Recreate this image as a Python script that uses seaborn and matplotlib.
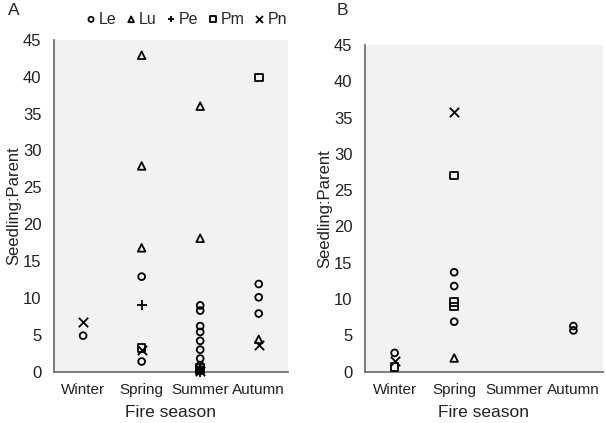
import numpy as np
import pandas as pd
import matplotlib.pyplot as plt
import seaborn as sns

sns.set_style("white")
plt.rcParams['font.family'] = ['Liberation Sans', 'DejaVu Sans']

seasons = ["Winter", "Spring", "Summer", "Autumn"]
species = ["Le", "Lu", "Pe", "Pm", "Pn"]
markers = {"Le": "o", "Lu": "^", "Pe": "+", "Pm": "s", "Pn": "x"}

# panel A: one entry per point (season, species, seedling:parent ratio)
a_season = ["Winter", "Winter",
            "Spring", "Spring", "Spring", "Spring", "Spring", "Spring", "Spring", "Spring",
            "Summer", "Summer", "Summer", "Summer", "Summer", "Summer", "Summer", "Summer",
            "Summer", "Summer", "Summer", "Summer", "Summer", "Summer", "Summer",
            "Autumn", "Autumn", "Autumn", "Autumn", "Autumn", "Autumn"]
a_species = ["Pn", "Le",
             "Lu", "Lu", "Lu", "Le", "Pe", "Pm", "Pn", "Le",
             "Lu", "Lu", "Le", "Le", "Le", "Le", "Le", "Le",
             "Le", "Le", "Pm", "Pm", "Lu", "Pn", "Pe",
             "Pm", "Le", "Le", "Le", "Lu", "Pn"]
a_value = [6.7, 4.9,
           42.9, 27.9, 16.8, 12.9, 9.0, 3.2, 3.0, 1.4,
           36.0, 18.1, 9.0, 8.3, 6.2, 5.4, 4.2, 3.0, 1.8, 0.9,
           0.5, 0.2, 0.4, 0.1, 0.0,
           39.9, 11.9, 10.1, 7.9, 4.4, 3.6]

# panel B
b_season = ["Winter", "Winter", "Winter",
            "Spring", "Spring", "Spring", "Spring", "Spring", "Spring", "Spring", "Spring",
            "Autumn", "Autumn"]
b_species = ["Le", "Pn", "Pm",
             "Pn", "Pm", "Le", "Le", "Pm", "Pm", "Le", "Lu",
             "Le", "Le"]
b_value = [2.6, 1.5, 0.7,
           35.8, 27.0, 13.7, 11.8, 9.6, 9.0, 6.9, 1.9,
           6.3, 5.7]

dfa = pd.DataFrame({"season": a_season, "species": a_species, "ratio": a_value})
dfb = pd.DataFrame({"season": b_season, "species": b_species, "ratio": b_value})
for d in (dfa, dfb):
    d["pos"] = d["season"].map({s: i for i, s in enumerate(seasons)})

fig = plt.figure(figsize=(6.05, 4.23), dpi=100)
axA = fig.add_axes([0.089, 0.121, 0.387, 0.785])
axB = fig.add_axes([0.603, 0.121, 0.394, 0.773])

for ax, df in [(axA, dfa), (axB, dfb)]:
    ax.set_facecolor("#f2f2f2")
    for sp in species:
        sub = df[df["species"] == sp]
        m = markers[sp]
        if m in ("+", "x"):
            sns.scatterplot(data=sub, x="pos", y="ratio", ax=ax, marker=m,
                            color="black", s=45, linewidth=1.3, clip_on=False,
                            label=sp, zorder=3)
        else:
            sns.scatterplot(data=sub, x="pos", y="ratio", ax=ax, marker=m,
                            facecolor="none", edgecolor="black",
                            s=24 if m == "o" else 30, linewidth=1.3,
                            clip_on=False, label=sp, zorder=3)
    ax.set_xlim(-0.5, 3.5)
    ax.set_ylim(0, 45)
    ax.set_yticks(np.arange(0, 46, 5))
    ax.set_xticks(range(4))
    ax.set_xticklabels(seasons)
    ax.set_xticks(np.arange(-0.5, 3.6, 1), minor=True)
    ax.tick_params(axis="x", which="major", length=0, labelsize=11, pad=8,
                   colors="#222222")
    ax.tick_params(axis="x", which="minor", length=4, direction="in",
                   color="#666666")
    ax.tick_params(axis="y", length=4, direction="in", labelsize=12,
                   color="#666666", labelcolor="#222222", pad=9)
    for s in ("top", "right"):
        ax.spines[s].set_visible(False)
    for s in ("left", "bottom"):
        ax.spines[s].set_color("#666666")
        ax.spines[s].set_linewidth(1.2)
    ax.set_xlabel("Fire season", fontsize=12.5, labelpad=6, color="#222222")
    ax.set_ylabel("Seedling:Parent", fontsize=12, labelpad=1, color="#222222")
    if ax.get_legend():
        ax.get_legend().remove()

handles, labels = axA.get_legend_handles_labels()
fig.legend(handles, labels, loc="center", bbox_to_anchor=(0.307, 0.955), ncol=5,
           frameon=False, fontsize=11.5, handletextpad=0.1, columnspacing=0.5,
           handlelength=0.8, markerscale=0.75)

fig.text(0.013, 0.975, "A", fontsize=12.5, va="center")
fig.text(0.557, 0.975, "B", fontsize=12.5, va="center")

fig.savefig("out.png", dpi=100)
